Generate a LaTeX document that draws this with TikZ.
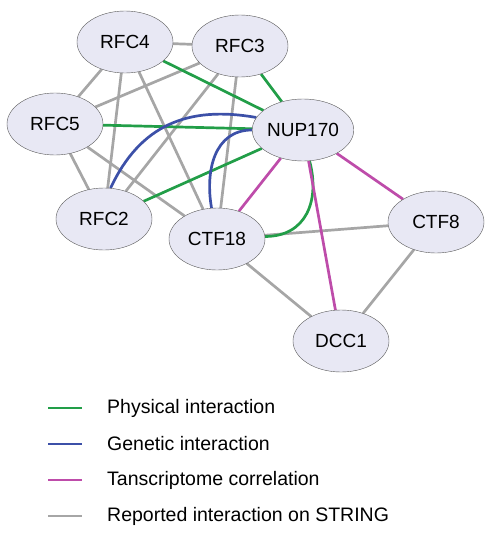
\documentclass[tikz,border=0pt]{standalone}
\usepackage{fontspec}
\setmainfont{Liberation Sans}
\usetikzlibrary{shapes.geometric, backgrounds}
\definecolor{phys}{RGB}{34,158,72}
\definecolor{genet}{RGB}{60,80,168}
\definecolor{trans}{RGB}{190,76,170}
\definecolor{strng}{RGB}{166,166,166}
\definecolor{genefill}{RGB}{232,232,244}

\begin{document}
\begin{tikzpicture}[x=1pt,y=-1pt,
    gene/.style={draw=black!65, fill=genefill, ellipse, minimum width=96pt, minimum height=62pt, inner sep=0pt, font=\fontsize{19}{22}\selectfont},
    link/.style={line width=2.7pt},
    keytext/.style={anchor=west, inner sep=0pt, font=\fontsize{19.5}{22}\selectfont}]

    \useasboundingbox (0,0) rectangle (488,559);

    \node (rfc4) [gene] at (125,42) {RFC4};
    \node (rfc3) [gene] at (240,46) {RFC3};
    \node (rfc5) [gene] at (55,124) {RFC5};
    \node (nup) [gene] at (303,130) {NUP170};
    \node (rfc2) [gene] at (104,219) {RFC2};
    \node (ctf18) [gene] at (217,239) {CTF18};
    \node (ctf8) [gene] at (436,222) {CTF8};
    \node (dcc1) [gene] at (341,341) {DCC1};

    \begin{pgfonlayer}{background}
    \foreach \a/\b in {rfc4/rfc3, rfc4/rfc5, rfc4/rfc2, rfc4/ctf18, rfc3/rfc5, rfc3/rfc2, rfc3/ctf18, rfc5/rfc2, rfc5/ctf18, ctf18/ctf8, ctf18/dcc1, ctf8/dcc1}
    \draw[link, strng] (\a) -- (\b);
    \foreach \a in {rfc4, rfc3, rfc5, rfc2}
    \draw[link, phys] (\a) -- (nup);
    \draw[link, phys] (nup.-78) to[out=-75, in=0, looseness=1.2] (ctf18.3);
    \draw[link, genet] (rfc2.78) to[out=65, in=170, looseness=1.1] (nup.165);
    \draw[link, genet] (ctf18.100) to[out=100, in=180, looseness=1.1] (nup.180);
    \foreach \a in {ctf18, ctf8, dcc1}
    \draw[link, trans] (nup) -- (\a);
    \end{pgfonlayer}

    \foreach \c/\t [count=\i from 0] in {phys/Physical interaction, genet/Genetic interaction, trans/Tanscriptome correlation, strng/Reported interaction on STRING}
    {
    \coordinate (key\i) at (48,408+36*\i);
    \node (keytxt\i) [keytext] at (107,408+36*\i) {\t};
    \draw[link, \c] (key\i) -- ++(34,0);
    }

\end{tikzpicture}
\end{document}
